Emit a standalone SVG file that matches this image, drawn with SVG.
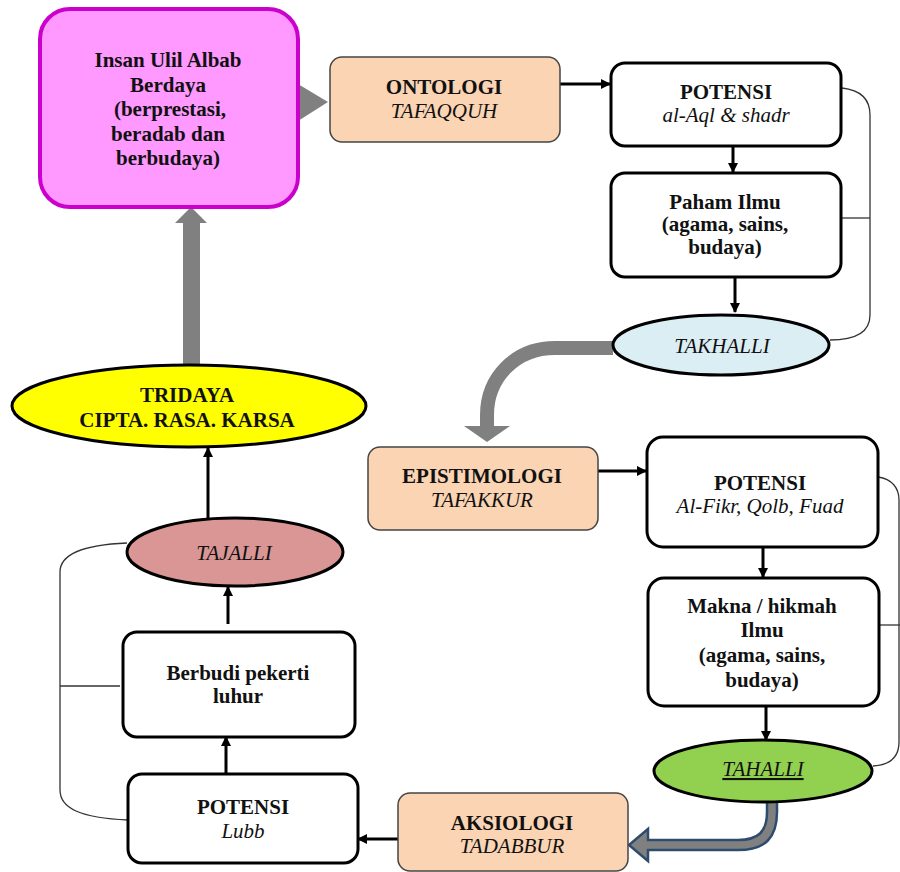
<svg xmlns="http://www.w3.org/2000/svg" width="900" height="872" viewBox="0 0 900 872">
<style>
.t{font-family:"Liberation Serif",serif;font-size:21px;text-anchor:middle;fill:#111}
.b{font-weight:bold}
.i{font-style:italic}
.box{fill:#fff;stroke:#000;stroke-width:3}
.peach{fill:#FBD4B4;stroke:#444;stroke-width:1.5}
.ell{stroke:#000;stroke-width:3}
.ln{fill:none;stroke:#000;stroke-width:3}
.brace{fill:none;stroke:#333;stroke-width:1.3}
.gray{fill:#808080}
</style>
<defs>
<marker id="ah" markerWidth="10" markerHeight="10" refX="9" refY="5" orient="auto" markerUnits="userSpaceOnUse">
<path d="M0,0 L10,5 L0,10 Z" fill="#000"/>
</marker>
</defs>
<rect width="900" height="872" fill="#fff"/>

<g id="connectors">
<polygon class="gray" points="298,84 328,102 298,121"/>
<rect class="gray" x="183" y="222" width="17" height="143"/>
<polygon class="gray" points="175,223 191,207 207,223"/>
<path d="M613 348 L555 348 C515 348 487 378 487 415 L487 428" fill="none" stroke="#808080" stroke-width="14"/>
<polygon class="gray" points="464,426 510,426 487,442"/>
<path d="M767 801 L767 812 C767 832 758 840 738 840 L648 840 L648 829 L629 845 L648 861 L648 850 L738 850 C765 850 777 838 777 812 L777 801 Z" fill="#808080" stroke="#2E4C6D" stroke-width="2.5"/>
<line class="ln" x1="560" y1="84" x2="610" y2="84" marker-end="url(#ah)"/>
<line class="ln" x1="733" y1="147" x2="733" y2="172" marker-end="url(#ah)"/>
<line class="ln" x1="735" y1="278" x2="735" y2="312" marker-end="url(#ah)"/>
<line class="ln" x1="598" y1="471" x2="646" y2="471" marker-end="url(#ah)"/>
<line class="ln" x1="763" y1="548" x2="763" y2="577" marker-end="url(#ah)"/>
<line class="ln" x1="766" y1="707" x2="766" y2="740" marker-end="url(#ah)"/>
<line class="ln" x1="398" y1="839" x2="358" y2="839" marker-end="url(#ah)"/>
<line class="ln" x1="226" y1="773" x2="226" y2="737" marker-end="url(#ah)"/>
<line class="ln" x1="228" y1="624" x2="228" y2="587" marker-end="url(#ah)"/>
<line class="ln" x1="208" y1="518" x2="208" y2="448" marker-end="url(#ah)"/>
<path class="brace" d="M842 88 C860 90 870 98 870 115 L870 315 C870 332 855 340 830 340"/>
<line class="brace" x1="841" y1="218" x2="870" y2="218"/>
<path class="brace" d="M878 477 C892 479 899 488 899 500 L899 742 C899 758 890 765 873 766"/>
<line class="brace" x1="880" y1="625" x2="900" y2="625"/>
<path class="brace" d="M127 543 C80 545 60 555 60 572 L60 790 C60 808 80 818 128 820"/>
<line class="brace" x1="60" y1="686" x2="120" y2="686"/>
</g>

<g id="insan">
<rect x="40" y="9" width="258" height="198" rx="30" fill="#FF99FF" stroke="#CC00CC" stroke-width="4"/>
<text class="t b" x="168" y="67">Insan Ulil Albab</text>
<text class="t b" x="168" y="92">Berdaya</text>
<text class="t b" x="170" y="116">(berprestasi,</text>
<text class="t b" x="168" y="141">beradab dan</text>
<text class="t b" x="168" y="165">berbudaya)</text>
</g>

<g id="ontologi">
<rect class="peach" x="330" y="57" width="230" height="85" rx="12"/>
<text class="t b" x="444" y="94">ONTOLOGI</text>
<text class="t i" x="444" y="118">TAFAQQUH</text>
</g>

<g id="potensi1">
<rect class="box" x="611" y="63" width="230" height="83" rx="14"/>
<text class="t b" x="726" y="99">POTENSI</text>
<text class="t i" x="726" y="122">al-Aql &amp; shadr</text>
</g>

<g id="paham">
<rect class="box" x="611" y="173" width="230" height="104" rx="14"/>
<text class="t b" x="725" y="209">Paham Ilmu</text>
<text class="t b" x="725" y="231">(agama, sains,</text>
<text class="t b" x="725" y="254">budaya)</text>
</g>

<g id="takhalli">
<ellipse class="ell" cx="721" cy="345" rx="108" ry="30" fill="#DBEEF4"/>
<text class="t i" x="722" y="353">TAKHALLI</text>
</g>

<g id="epistimologi">
<rect class="peach" x="368" y="447" width="230" height="83" rx="12"/>
<text class="t b" x="482" y="483">EPISTIMOLOGI</text>
<text class="t i" x="482" y="507">TAFAKKUR</text>
</g>

<g id="potensi2">
<rect class="box" x="647" y="437" width="231" height="110" rx="16"/>
<text class="t b" x="760" y="490">POTENSI</text>
<text class="t i" x="760" y="513">Al-Fikr, Qolb, Fuad</text>
</g>

<g id="makna">
<rect class="box" x="648" y="578" width="231" height="128" rx="16"/>
<text class="t b" x="762" y="613">Makna / hikmah</text>
<text class="t b" x="762" y="637">Ilmu</text>
<text class="t b" x="762" y="662">(agama, sains,</text>
<text class="t b" x="762" y="687">budaya)</text>
</g>

<g id="tahalli">
<ellipse class="ell" cx="763" cy="771" rx="109" ry="31" fill="#92D050"/>
<text class="t i" x="763" y="776" text-decoration="underline">TAHALLI</text>
</g>

<g id="aksiologi">
<rect class="peach" x="398" y="793" width="230" height="78" rx="12"/>
<text class="t b" x="512" y="830">AKSIOLOGI</text>
<text class="t i" x="512" y="853">TADABBUR</text>
</g>

<g id="lubb">
<rect class="box" x="128" y="774" width="230" height="89" rx="14"/>
<text class="t b" x="243" y="814">POTENSI</text>
<text class="t i" x="243" y="838">Lubb</text>
</g>

<g id="berbudi">
<rect class="box" x="123" y="632" width="232" height="105" rx="14"/>
<text class="t b" x="238" y="680">Berbudi pekerti</text>
<text class="t b" x="238" y="703">luhur</text>
</g>

<g id="tajalli">
<ellipse class="ell" cx="235" cy="552" rx="108" ry="34" fill="#D99694"/>
<text class="t i" x="234" y="560">TAJALLI</text>
</g>

<g id="tridaya">
<ellipse class="ell" cx="189" cy="406" rx="177" ry="41" fill="#FFFF00"/>
<text class="t b" x="187" y="402">TRIDAYA</text>
<text class="t b" x="187" y="427">CIPTA. RASA. KARSA</text>
</g>
</svg>
